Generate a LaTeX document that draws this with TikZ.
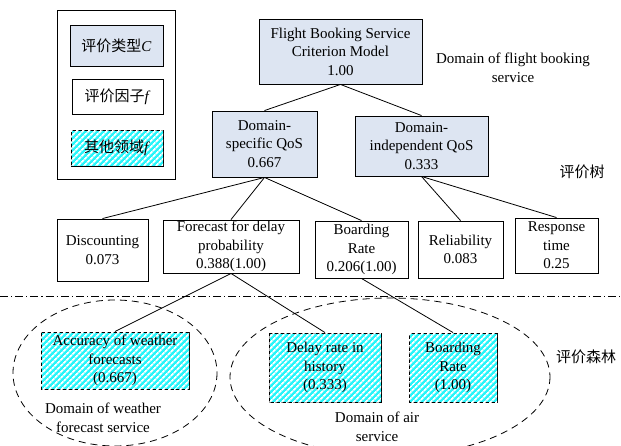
\documentclass[tikz,border=0pt]{standalone}
\usepackage{fontspec}
\setmainfont{Liberation Serif}
\newfontfamily\cjk{Noto Sans CJK SC}
\usetikzlibrary{patterns.meta}
\definecolor{qgray}{RGB}{221,229,242}
\definecolor{qcyan}{RGB}{40,245,250}
\begin{document}
\begin{tikzpicture}[x=1pt,y=-1pt,
  every node/.style={font=\fontsize{15}{18.5}\selectfont, inner sep=0pt, align=center},
  mybox/.style={draw, line width=0.9pt, minimum width=#1},
  critbox/.style={mybox=#1, fill=qgray},
  otherbox/.style={mybox=#1, fill=qcyan, postaction={pattern={Lines[angle=45,distance=4pt,line width=1.9pt]}, pattern color=white}},
  linkline/.style={line width=0.8pt},
  domainline/.style={dash pattern=on 7pt off 5pt, line width=0.8pt},
  sepline/.style={dash pattern=on 8pt off 3pt on 1.2pt off 3pt, line width=0.8pt},
  lbl/.style={align=center}
]
\useasboundingbox (0,0) rectangle (621,446);

% domain ellipses
\coordinate (eL) at (115,373);
\coordinate (eR) at (390,377);
\draw[domainline] (eL) ellipse [x radius=102, y radius=73];
\draw[domainline] (eR) ellipse [x radius=160, y radius=79];

% separator
\coordinate (sepL) at (0,296);
\coordinate (sepR) at (621,296);
\draw[sepline] (sepL) -- (sepR);

% legend
\node[mybox=118pt, minimum height=169pt] (legend) at (116,94.5) {};
\node[critbox=93pt, minimum height=41pt] (legC) at (116.5,45.5) {{\cjk 评价类型}\textit{C}};
\node[mybox=91pt, minimum height=35pt] (legF) at (117.5,96.5) {{\cjk 评价因子}\textit{f}};
\node[otherbox=92pt, minimum height=36pt] (legO) at (117,148) {{\cjk 其他领域}\textit{f}};

% tree
\node[critbox=163pt, minimum height=65pt] (top) at (340.5,51.5) {Flight Booking Service\\Criterion Model\\1.00};
\node[critbox=105pt, minimum height=66pt] (ds) at (264.5,144) {Domain-\\specific QoS\\0.667};
\node[critbox=133pt, minimum height=60pt] (di) at (421.5,146) {Domain-\\independent QoS\\0.333};

\node[mybox=91pt, minimum height=62pt] (disc) at (102.5,250) {Discounting\\0.073};
\node[mybox=136pt, minimum height=53pt] (fore) at (231,246.5) {Forecast for delay\\probability\\0.388(1.00)};
\node[mybox=93pt, minimum height=57pt] (board) at (361.5,249.5) {Boarding\\Rate\\0.206(1.00)};
\node[mybox=85pt, minimum height=57pt] (rel) at (460.5,249.5) {Reliability\\0.083};
\node[mybox=83pt, minimum height=55pt] (resp) at (556.5,245.5) {Response\\time\\0.25};

% forest
\node[otherbox=148pt, minimum height=57pt] (acc) at (115,360.5) {Accuracy of weather\\forecasts\\(0.667)};
\node[otherbox=112pt, minimum height=69pt] (delay) at (325,367.5) {Delay rate in\\history\\(0.333)};
\node[otherbox=88pt, minimum height=69pt] (boardf) at (453,367.5) {Boarding\\Rate\\(1.00)};

% labels
\node[lbl] (dfb) at (513,68) {Domain of flight booking\\service};
\node (tree) at (582,172) {\cjk 评价树};
\node (forest) at (586,357) {\cjk 评价森林};
\node[lbl] (dws) at (103,418) {Domain of weather\\forecast service};
\node[lbl] (das) at (377,427) {Domain of air\\service};

% connectors
\draw[linkline] (top.south) -- (ds.north);
\draw[linkline] (top.south) -- (di.north);
\draw[linkline] (ds.south) -- (disc.north);
\draw[linkline] (ds.south) -- (fore.north);
\draw[linkline] (ds.south) -- (board.north);
\draw[linkline] (di.south) -- (rel.north);
\draw[linkline] (di.south) -- (resp.north);
\draw[linkline] (fore.south) -- (acc.north);
\draw[linkline] (fore.south) -- (delay.north);
\draw[linkline] (board.south) -- (boardf.north);
\end{tikzpicture}
\end{document}
